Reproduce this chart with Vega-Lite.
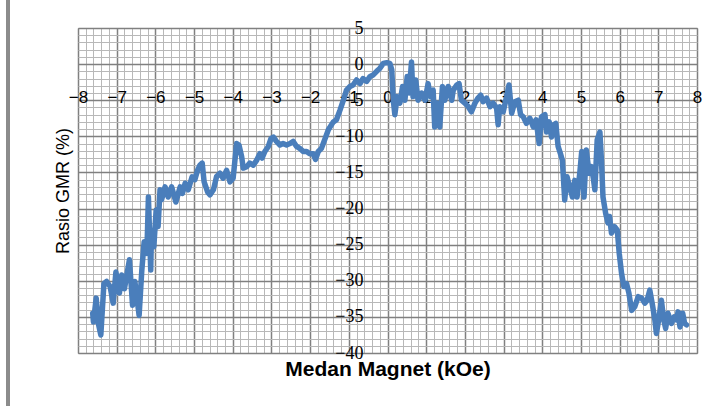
{
  "$schema": "https://vega.github.io/schema/vega-lite/v6.json",
  "width": 619,
  "height": 325,
  "autosize": {"type": "none"},
  "padding": {"left": 78, "top": 28, "right": 23, "bottom": 53},
  "background": "white",
  "config": {"view": {"stroke": "#8c8c8c", "strokeWidth": 1}},
  "data": {"values": [
    {"H": -7.62, "GMR": -34.5}, {"H": -7.6, "GMR": -35.7}, {"H": -7.53, "GMR": -32.4}, {"H": -7.47, "GMR": -36.0}, {"H": -7.41, "GMR": -37.5},
    {"H": -7.33, "GMR": -30.4}, {"H": -7.26, "GMR": -30.1}, {"H": -7.17, "GMR": -30.8}, {"H": -7.09, "GMR": -33.1}, {"H": -7.02, "GMR": -28.8},
    {"H": -6.93, "GMR": -31.7}, {"H": -6.87, "GMR": -29.2}, {"H": -6.8, "GMR": -31.1}, {"H": -6.67, "GMR": -27.1}, {"H": -6.59, "GMR": -33.4},
    {"H": -6.53, "GMR": -30.1}, {"H": -6.42, "GMR": -34.8}, {"H": -6.35, "GMR": -28.5}, {"H": -6.29, "GMR": -24.6}, {"H": -6.22, "GMR": -26.2},
    {"H": -6.18, "GMR": -18.4}, {"H": -6.12, "GMR": -28.5}, {"H": -6.1, "GMR": -23.0}, {"H": -6.04, "GMR": -25.3}, {"H": -5.98, "GMR": -20.2},
    {"H": -5.93, "GMR": -22.5}, {"H": -5.88, "GMR": -17.4}, {"H": -5.84, "GMR": -18.8}, {"H": -5.75, "GMR": -17.0}, {"H": -5.67, "GMR": -18.4},
    {"H": -5.58, "GMR": -17.0}, {"H": -5.47, "GMR": -19.1}, {"H": -5.36, "GMR": -17.0}, {"H": -5.3, "GMR": -17.9},
    {"H": -5.23, "GMR": -16.5}, {"H": -5.15, "GMR": -17.4}, {"H": -5.05, "GMR": -15.6}, {"H": -4.98, "GMR": -16.0}, {"H": -4.91, "GMR": -14.7},
    {"H": -4.85, "GMR": -14.0}, {"H": -4.79, "GMR": -13.7}, {"H": -4.74, "GMR": -16.3}, {"H": -4.65, "GMR": -17.7}, {"H": -4.59, "GMR": -18.1},
    {"H": -4.5, "GMR": -17.4}, {"H": -4.42, "GMR": -15.6}, {"H": -4.33, "GMR": -15.1}, {"H": -4.25, "GMR": -15.8}, {"H": -4.16, "GMR": -14.7},
    {"H": -4.07, "GMR": -16.3}, {"H": -3.99, "GMR": -15.8}, {"H": -3.9, "GMR": -11.0}, {"H": -3.84, "GMR": -11.2}, {"H": -3.77, "GMR": -12.8},
    {"H": -3.73, "GMR": -14.4}, {"H": -3.64, "GMR": -14.2}, {"H": -3.56, "GMR": -13.7}, {"H": -3.47, "GMR": -14.0}, {"H": -3.38, "GMR": -13.3},
    {"H": -3.3, "GMR": -12.4}, {"H": -3.24, "GMR": -13.0}, {"H": -3.17, "GMR": -12.1}, {"H": -3.08, "GMR": -11.4}, {"H": -3.01, "GMR": -10.3},
    {"H": -2.95, "GMR": -10.1}, {"H": -2.87, "GMR": -10.7}, {"H": -2.78, "GMR": -11.2}, {"H": -2.7, "GMR": -11.0}, {"H": -2.61, "GMR": -11.2},
    {"H": -2.52, "GMR": -11.0}, {"H": -2.44, "GMR": -10.7}, {"H": -2.35, "GMR": -11.4}, {"H": -2.26, "GMR": -11.7}, {"H": -2.18, "GMR": -12.1},
    {"H": -2.09, "GMR": -12.1}, {"H": -2.01, "GMR": -12.4}, {"H": -1.92, "GMR": -12.4}, {"H": -1.86, "GMR": -13.2}, {"H": -1.79, "GMR": -12.1},
    {"H": -1.71, "GMR": -11.7}, {"H": -1.66, "GMR": -11.0}, {"H": -1.53, "GMR": -9.1}, {"H": -1.4, "GMR": -8.0}, {"H": -1.32, "GMR": -7.7},
    {"H": -1.23, "GMR": -6.4}, {"H": -1.14, "GMR": -5.0}, {"H": -1.06, "GMR": -3.6}, {"H": -0.97, "GMR": -3.1}, {"H": -0.89, "GMR": -2.9},
    {"H": -0.8, "GMR": -2.2}, {"H": -0.71, "GMR": -2.7}, {"H": -0.63, "GMR": -2.0}, {"H": -0.54, "GMR": -2.4}, {"H": -0.45, "GMR": -1.7},
    {"H": -0.37, "GMR": -1.5}, {"H": -0.28, "GMR": -1.0}, {"H": -0.2, "GMR": -0.6}, {"H": -0.11, "GMR": 0.1}, {"H": -0.02, "GMR": 0.2},
    {"H": 0.06, "GMR": 0.1}, {"H": 0.11, "GMR": -0.8}, {"H": 0.15, "GMR": -5.0}, {"H": 0.19, "GMR": -7.0}, {"H": 0.25, "GMR": -4.5},
    {"H": 0.32, "GMR": -5.4}, {"H": 0.39, "GMR": -3.1}, {"H": 0.45, "GMR": -5.0}, {"H": 0.51, "GMR": -1.7}, {"H": 0.56, "GMR": -4.0},
    {"H": 0.62, "GMR": 0.3}, {"H": 0.66, "GMR": -4.5}, {"H": 0.73, "GMR": -2.2}, {"H": 0.79, "GMR": -5.0}, {"H": 0.88, "GMR": -4.0},
    {"H": 0.97, "GMR": -5.0}, {"H": 1.05, "GMR": -2.7}, {"H": 1.11, "GMR": -4.5}, {"H": 1.18, "GMR": -3.6}, {"H": 1.22, "GMR": -8.7},
    {"H": 1.28, "GMR": -5.4}, {"H": 1.35, "GMR": -8.7}, {"H": 1.42, "GMR": -3.1}, {"H": 1.48, "GMR": -5.0}, {"H": 1.57, "GMR": -3.1},
    {"H": 1.66, "GMR": -5.0}, {"H": 1.7, "GMR": -3.6}, {"H": 1.79, "GMR": -2.9}, {"H": 1.85, "GMR": -2.7}, {"H": 1.91, "GMR": -5.0},
    {"H": 2.0, "GMR": -5.4}, {"H": 2.09, "GMR": -5.9}, {"H": 2.17, "GMR": -6.6}, {"H": 2.26, "GMR": -5.4}, {"H": 2.34, "GMR": -4.7},
    {"H": 2.41, "GMR": -4.3}, {"H": 2.47, "GMR": -5.2}, {"H": 2.56, "GMR": -4.7}, {"H": 2.65, "GMR": -5.9}, {"H": 2.73, "GMR": -5.4},
    {"H": 2.82, "GMR": -6.1}, {"H": 2.86, "GMR": -8.4}, {"H": 2.9, "GMR": -5.9}, {"H": 2.99, "GMR": -6.6}, {"H": 3.08, "GMR": -4.5},
    {"H": 3.14, "GMR": -2.9}, {"H": 3.21, "GMR": -6.8}, {"H": 3.29, "GMR": -5.2}, {"H": 3.38, "GMR": -5.0}, {"H": 3.44, "GMR": -7.0},
    {"H": 3.51, "GMR": -7.3}, {"H": 3.59, "GMR": -8.2}, {"H": 3.68, "GMR": -7.5}, {"H": 3.77, "GMR": -8.7}, {"H": 3.84, "GMR": -7.7},
    {"H": 3.92, "GMR": -11.0}, {"H": 3.98, "GMR": -7.3}, {"H": 4.07, "GMR": -7.0}, {"H": 4.11, "GMR": -9.4}, {"H": 4.18, "GMR": -8.0},
    {"H": 4.24, "GMR": -10.1}, {"H": 4.3, "GMR": -8.4}, {"H": 4.35, "GMR": -8.2}, {"H": 4.41, "GMR": -11.4}, {"H": 4.47, "GMR": -12.4},
    {"H": 4.52, "GMR": -13.3}, {"H": 4.58, "GMR": -18.8}, {"H": 4.64, "GMR": -15.6}, {"H": 4.71, "GMR": -17.0}, {"H": 4.78, "GMR": -18.4},
    {"H": 4.84, "GMR": -16.1}, {"H": 4.9, "GMR": -18.4}, {"H": 4.97, "GMR": -15.1}, {"H": 5.02, "GMR": -12.1}, {"H": 5.08, "GMR": -18.4},
    {"H": 5.14, "GMR": -11.9}, {"H": 5.21, "GMR": -15.1}, {"H": 5.27, "GMR": -14.2}, {"H": 5.32, "GMR": -15.8}, {"H": 5.36, "GMR": -17.4},
    {"H": 5.42, "GMR": -10.5}, {"H": 5.49, "GMR": -9.4}, {"H": 5.53, "GMR": -13.3}, {"H": 5.57, "GMR": -18.4}, {"H": 5.64, "GMR": -20.7},
    {"H": 5.7, "GMR": -22.0}, {"H": 5.74, "GMR": -21.1}, {"H": 5.79, "GMR": -23.4}, {"H": 5.87, "GMR": -22.5}, {"H": 5.94, "GMR": -23.0},
    {"H": 5.99, "GMR": -26.2}, {"H": 6.05, "GMR": -29.0}, {"H": 6.11, "GMR": -30.8}, {"H": 6.18, "GMR": -30.4}, {"H": 6.24, "GMR": -31.7},
    {"H": 6.31, "GMR": -34.1}, {"H": 6.39, "GMR": -33.6}, {"H": 6.48, "GMR": -32.2}, {"H": 6.57, "GMR": -32.4}, {"H": 6.65, "GMR": -33.1},
    {"H": 6.71, "GMR": -32.7}, {"H": 6.78, "GMR": -31.3}, {"H": 6.85, "GMR": -33.4}, {"H": 6.91, "GMR": -35.4}, {"H": 6.95, "GMR": -37.3},
    {"H": 7.01, "GMR": -35.4}, {"H": 7.08, "GMR": -32.7}, {"H": 7.14, "GMR": -35.4}, {"H": 7.19, "GMR": -36.6}, {"H": 7.25, "GMR": -34.5},
    {"H": 7.34, "GMR": -35.9}, {"H": 7.41, "GMR": -35.0}, {"H": 7.47, "GMR": -35.4}, {"H": 7.51, "GMR": -34.3}, {"H": 7.56, "GMR": -36.4},
    {"H": 7.63, "GMR": -34.5}, {"H": 7.68, "GMR": -35.9}, {"H": 7.73, "GMR": -36.1}
  ]},
  "resolve": {"axis": {"x": "independent", "y": "independent"}},
  "layer": [
    {
      "mark": {"type": "line", "color": "#4a7ebb", "strokeWidth": 5.5, "strokeJoin": "round", "strokeCap": "round"},
      "encoding": {
        "x": {"field": "H", "type": "quantitative", "scale": {"domain": [-8, 8], "nice": false, "zero": false},
          "axis": {"orient": "bottom", "title": null, "labels": false, "ticks": false, "domain": false, "grid": true,
            "values": [-8,-7.8,-7.6,-7.4,-7.2,-7,-6.8,-6.6,-6.4,-6.2,-6,-5.8,-5.6,-5.4,-5.2,-5,-4.8,-4.6,-4.4,-4.2,-4,-3.8,-3.6,-3.4,-3.2,-3,-2.8,-2.6,-2.4,-2.2,-2,-1.8,-1.6,-1.4,-1.2,-1,-0.8,-0.6,-0.4,-0.2,0,0.2,0.4,0.6,0.8,1,1.2,1.4,1.6,1.8,2,2.2,2.4,2.6,2.8,3,3.2,3.4,3.6,3.8,4,4.2,4.4,4.6,4.8,5,5.2,5.4,5.6,5.8,6,6.2,6.4,6.6,6.8,7,7.2,7.4,7.6,7.8,8],
            "gridColor": {"condition": {"test": "abs(datum.value % 1) < 0.001", "value": "#808080"}, "value": "#b8b8b8"},
            "gridWidth": {"condition": {"test": "abs(datum.value % 1) < 0.001", "value": 1.5}, "value": 1},
            "gridOpacity": 1}},
        "y": {"field": "GMR", "type": "quantitative", "scale": {"domain": [-40, 5], "nice": false, "zero": false},
          "axis": {"orient": "left", "title": null, "labels": false, "ticks": false, "domain": false, "grid": true,
            "values": [-40,-39,-38,-37,-36,-35,-34,-33,-32,-31,-30,-29,-28,-27,-26,-25,-24,-23,-22,-21,-20,-19,-18,-17,-16,-15,-14,-13,-12,-11,-10,-9,-8,-7,-6,-5,-4,-3,-2,-1,0,1,2,3,4,5],
            "gridColor": {"condition": {"test": "datum.value % 5 === 0", "value": "#808080"}, "value": "#b8b8b8"},
            "gridWidth": {"condition": {"test": "datum.value % 5 === 0", "value": 1.5}, "value": 1},
            "gridOpacity": 1}}
      }
    },
    {
      "mark": {"type": "line", "opacity": 0},
      "encoding": {
        "x": {"field": "H", "type": "quantitative",
          "axis": {"orient": "bottom", "offset": -264, "title": null, "values": [-8,-7,-6,-5,-4,-3,-2,-1,0,1,2,3,4,5,6,7,8],
            "ticks": false, "tickSize": 0, "domain": false, "grid": false, "labelPadding": 0, "labelFlush": false, "labelOverlap": false,
            "labelFont": "Liberation Sans", "labelFontSize": 17, "labelColor": "#000000"}},
        "y": {"field": "GMR", "type": "quantitative",
          "axis": {"orient": "left", "offset": -285, "title": null, "values": [-40,-35,-30,-25,-20,-15,-10,-5,0,5],
            "ticks": false, "tickSize": 0, "domain": false, "grid": false, "labelPadding": 0, "labelFlush": false, "labelOverlap": false,
            "labelFont": "Liberation Serif", "labelFontSize": 18, "labelColor": "#000000"}}
      }
    },
    {
      "mark": {"type": "line", "opacity": 0},
      "encoding": {
        "x": {"field": "H", "type": "quantitative",
          "axis": {"orient": "bottom", "title": "Medan Magnet (kOe)", "labels": false, "ticks": false, "domain": false, "grid": false,
            "titlePadding": 5, "titleFont": "Liberation Sans", "titleFontSize": 21, "titleFontWeight": "bold", "titleColor": "#000000"}},
        "y": {"field": "GMR", "type": "quantitative",
          "axis": {"orient": "left", "title": "Rasio GMR (%)", "labels": false, "ticks": false, "domain": false, "grid": false,
            "titlePadding": 6, "titleFont": "Liberation Sans", "titleFontSize": 18, "titleFontWeight": "normal", "titleColor": "#000000"}}
      }
    },
    {
      "mark": {"type": "rule", "color": "#8c8c8c", "strokeWidth": 3},
      "encoding": {
        "x": {"datum": -9.82, "type": "quantitative", "axis": null},
        "y": {"datum": 9, "type": "quantitative", "axis": null},
        "y2": {"datum": -48}
      }
    }
  ]
}
